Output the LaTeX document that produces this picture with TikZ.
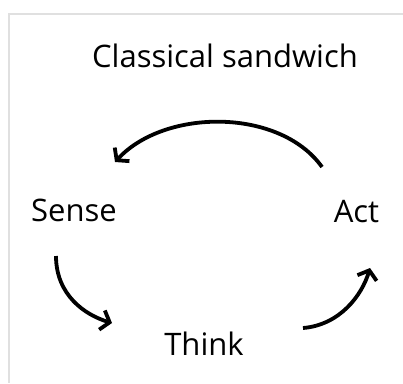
\documentclass[tikz,border=0pt]{standalone}
\usepackage{fontspec}
\setmainfont{Open Sans}
\usepackage{tikz}
\usetikzlibrary{arrows.meta,positioning}
\definecolor{framegray}{RGB}{224,224,224}
\tikzset{
  lbl/.style={anchor=base,inner sep=0pt,font=\fontsize{31}{36}\selectfont},
  cyc/.style={line width=3.8pt,-{Straight Barb[length=8pt,width=20pt]}}
}

\begin{document}
\begin{tikzpicture}[x=1pt,y=-1pt]
  \useasboundingbox (0,0) rectangle (403,383);
  \fill[white] (0,0) rectangle (403,383);
  \draw[framegray,line width=1.5pt] (9,383) -- (9,14) -- (403,14);
  % labels
  \node[lbl] (title) at (225,67) {Classical sandwich};
  \node[lbl] (sense) at (74,221) {Sense};
  \node[lbl] (act) at (356.5,222) {Act};
  \node[lbl] (think) at (204,355) {Think};
  % cycle arrows
  \draw[cyc] ([shift={(-34.5,-55)}]act.base) .. controls +(-42,-59) and +(50,-54) .. ([shift={(41,-59)}]sense.base);
  \draw[cyc] ([shift={(-18,35)}]sense.base) .. controls +(0,39) and +(-27,-8) .. ([shift={(-92,-32)}]think.base);
  \draw[cyc] ([shift={(99,-27)}]think.base) .. controls +(37,-3) and +(-8,27) .. ([shift={(13.5,46)}]act.base);
\end{tikzpicture}
\end{document}
